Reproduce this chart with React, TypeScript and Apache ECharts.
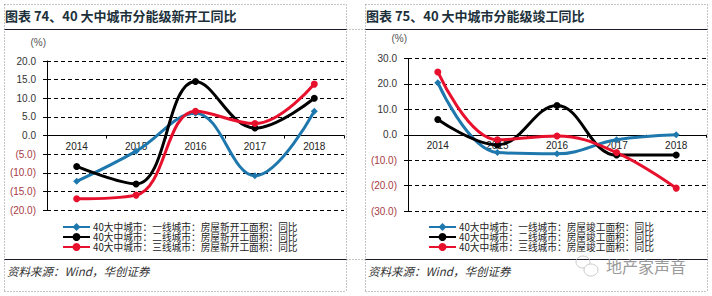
import React, { useEffect, useRef } from "react";
import * as echarts from "echarts";

const years = ["2014", "2015", "2016", "2017", "2018"];

const leftTier1 = [-12.3, -4.2, 6.0, -10.8, 6.5];
const leftTier2 = [-8.3, -13.0, 14.5, 2.0, 10.0];
const leftTier3 = [-17.0, -16.0, 6.5, 3.2, 13.8];

const rightTier1 = [20.5, -7.0, -7.5, -2.0, 0.0];
const rightTier2 = [6.0, -4.0, 11.5, -8.0, -8.0];
const rightTier3 = [24.7, -2.0, -0.5, -7.0, -21.0];

const leftNames = [
  "40大中城市：一线城市：房屋新开工面积：同比",
  "40大中城市：二线城市：房屋新开工面积：同比",
  "40大中城市：三线城市：房屋新开工面积：同比",
];
const rightNames = [
  "40大中城市：一线城市：房屋竣工面积：同比",
  "40大中城市：二线城市：房屋竣工面积：同比",
  "40大中城市：三线城市：房屋竣工面积：同比",
];

const leftTitle = "图表 74、40 大中城市分能级新开工同比";
const rightTitle = "图表 75、40 大中城市分能级竣工同比";
const sourceText = "资料来源：Wind，华创证券";
const watermark = "地产家声音";

const colors = ["#1f78ad", "#000000", "#e8112d"];
const cjk = '"Noto Sans CJK SC", sans-serif';
const latin = '"Liberation Sans", Arial, sans-serif';

const fmt = (v: number) => (v < 0 ? `(${Math.abs(v).toFixed(1)})` : v.toFixed(1));

function makeX(gridIndex: number, offset: number) {
  return {
    type: "category" as const,
    gridIndex,
    data: years,
    position: "bottom" as const,
    offset,
    axisLine: { onZero: false, lineStyle: { color: "#000", width: 1 } },
    axisTick: { show: true, length: 3, lineStyle: { color: "#000" } },
    axisLabel: { fontFamily: latin, fontSize: 10, color: "#222", margin: 6 },
    z: 1,
  };
}

function makeY(gridIndex: number, min: number, max: number, interval: number, gap: number) {
  return {
    type: "value" as const,
    gridIndex,
    min,
    max,
    interval,
    name: "(%)",
    nameGap: gap,
    nameTextStyle: { fontFamily: latin, fontSize: 10, color: "#555", align: "right" as const, padding: [0, 1, 0, 0] },
    axisLine: { show: true, onZero: false, lineStyle: { color: "#000", width: 1 } },
    axisTick: { show: true, length: 4, lineStyle: { color: "#000" } },
    splitLine: { show: true, lineStyle: { color: "#000", type: [4, 3] as number[], width: 1 } },
    axisLabel: {
      fontFamily: latin,
      fontSize: 10,
      margin: 11,
      formatter: (v: number) => fmt(v),
      color: (v: any) => (Number(v) < 0 ? "#a83a44" : "#333"),
    },
  };
}

function makeSeries(name: string, data: number[], color: string, axis: number, symbol: string) {
  return {
    type: "line" as const,
    name,
    data,
    xAxisIndex: axis,
    yAxisIndex: axis,
    smooth: 0.4,
    symbol,
    symbolSize: 7,
    itemStyle: { color },
    lineStyle: { color, width: 3 },
    z: 3,
  };
}

function makeLegend(names: string[], left: number) {
  return {
    orient: "vertical" as const,
    left,
    top: 222,
    padding: 0,
    itemGap: 0,
    itemWidth: 27,
    itemHeight: 10,
    data: names,
    textStyle: {
      fontFamily: cjk,
      fontSize: 9.7,
      lineHeight: 10,
      height: 10,
      color: "#222",
      padding: [0, 0, 0, -2],
    },
  };
}

const dotted = { stroke: "#8a8a8a", lineWidth: 1, lineDash: [1, 2] };
const solid = { stroke: "#1a1a2a", lineWidth: 1 };
const seg = (x1: number, y1: number, x2: number, y2: number, style: object) => ({
  type: "line",
  shape: { x1, y1, x2, y2 },
  style,
  silent: true,
});

const label = (text: string, x: number, y: number, style: object) => ({
  type: "text",
  x,
  y,
  silent: true,
  style: { text, verticalAlign: "middle", ...style },
});

export default function App() {
  const ref = useRef<HTMLDivElement>(null);
  useEffect(() => {
    if (!ref.current) return;
    const chart = echarts.init(ref.current, undefined, { renderer: "svg" });
    chart.setOption({
      animation: false,
      backgroundColor: "#fff",
      grid: [
        { left: 47, top: 61, width: 297, height: 149 },
        { left: 408, top: 58.5, width: 298, height: 152.5 },
      ],
      xAxis: [makeX(0, -74.5), makeX(1, -76.25)],
      yAxis: [makeY(0, -20, 20, 5, 14), makeY(1, -30, 30, 10, 15)],
      legend: [makeLegend(leftNames, 62), makeLegend(rightNames, 428)],
      series: [
        makeSeries(leftNames[0], leftTier1, colors[0], 0, "diamond"),
        makeSeries(leftNames[1], leftTier2, colors[1], 0, "circle"),
        makeSeries(leftNames[2], leftTier3, colors[2], 0, "circle"),
        makeSeries(rightNames[0], rightTier1, colors[0], 1, "diamond"),
        makeSeries(rightNames[1], rightTier2, colors[1], 1, "circle"),
        makeSeries(rightNames[2], rightTier3, colors[2], 1, "circle"),
      ],
      graphic: [
        seg(4.5, 4.5, 346.5, 4.5, dotted),
        seg(4.5, 4.5, 4.5, 291.5, dotted),
        seg(346.5, 4.5, 346.5, 291.5, dotted),
        seg(4.5, 291.5, 346.5, 291.5, dotted),
        seg(365.5, 4.5, 707.5, 4.5, dotted),
        seg(365.5, 4.5, 365.5, 291.5, dotted),
        seg(707.5, 4.5, 707.5, 291.5, dotted),
        seg(365.5, 291.5, 707.5, 291.5, dotted),
        seg(346.5, 29.5, 365.5, 29.5, dotted),
        seg(346.5, 259.5, 365.5, 259.5, dotted),
        seg(4.5, 29.5, 346.5, 29.5, solid),
        seg(365.5, 29.5, 707.5, 29.5, solid),
        seg(4.5, 259.5, 346.5, 259.5, solid),
        seg(365.5, 259.5, 707.5, 259.5, solid),
        label(leftTitle, 5, 15, { font: `bold 13px ${cjk}`, fill: "#20303a" }),
        label(rightTitle, 366, 15, { font: `bold 13px ${cjk}`, fill: "#20303a" }),
        label(sourceText, 7, 271, { font: `italic 11.5px ${cjk}`, fill: "#333" }),
        label(sourceText, 368, 271, { font: `italic 11.5px ${cjk}`, fill: "#333" }),
        label(watermark, 606, 266, { font: `16px ${cjk}`, fill: "#9a9a9a" }),
        {
          type: "ellipse",
          silent: true,
          shape: { cx: 583, cy: 262, rx: 7, ry: 6 },
          style: { fill: "none", stroke: "#c8c8c8", lineWidth: 1 },
        },
        {
          type: "ellipse",
          silent: true,
          shape: { cx: 591, cy: 270, rx: 7, ry: 6 },
          style: { fill: "#fff", stroke: "#c8c8c8", lineWidth: 1 },
        },
      ],
    });
    return () => chart.dispose();
  }, []);
  return <div ref={ref} style={{ position: "absolute", left: 0, top: 0, width: 712, height: 296 }} />;
}
